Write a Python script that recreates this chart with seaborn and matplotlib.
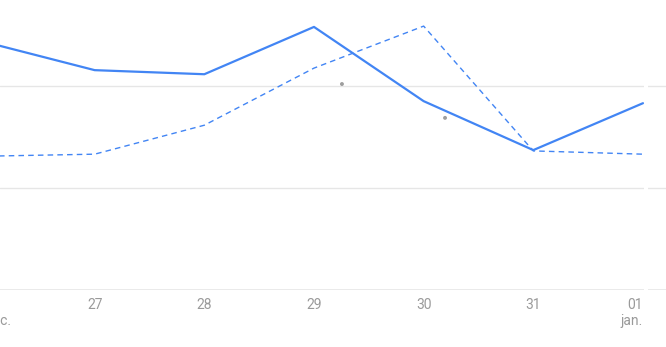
import matplotlib
matplotlib.use("Agg")
import matplotlib.pyplot as plt
import matplotlib.transforms as mtransforms
import seaborn as sns
import pandas as pd

# ---- data ----
days = ["26", "27", "28", "29", "30", "31", "01"]
months = ["déc.", "", "", "", "", "", "jan."]
solid_values = [60.8, 53.9, 52.9, 64.5, 46.3, 34.3, 45.8]
dashed_values = [32.8, 33.3, 40.4, 54.4, 64.7, 34.1, 33.3]
marker_x = [3.255, 4.195]
marker_y = [50.5, 42.2]
grid_values = [25, 50]

sns.set_style("white")
plt.rcParams["font.family"] = ["Roboto", "DejaVu Sans"]

idx = list(range(len(days)))
df = pd.DataFrame({
    "idx": idx * 2,
    "value": solid_values + dashed_values,
    "series": ["solid"] * len(days) + ["dashed"] * len(days),
})

fig = plt.figure(figsize=(6.66, 3.47), dpi=100)
ax = fig.add_axes([0, 57 / 347, 1, 290 / 347])

blue = "#4285f4"
grid_c = "#e6e6e6"

for v in grid_values:
    ax.axhline(v, color=grid_c, lw=1, zorder=0)
ax.axhline(0, color=grid_c, lw=1.2, zorder=0)

sns.lineplot(data=df[df.series == "dashed"], x="idx", y="value", ax=ax,
             color=blue, lw=1.0, linestyle=(0, (4, 3)), zorder=3)
sns.lineplot(data=df[df.series == "solid"], x="idx", y="value", ax=ax,
             color=blue, lw=1.6, zorder=4)
sns.scatterplot(x=marker_x, y=marker_y, ax=ax, color="#9e9e9e", s=8,
                edgecolor="none", zorder=5)

# gap / separator after last point
ax.axvspan(6.008, 6.045, color="white", zorder=1, lw=0)

ax.set_xlim(0.1368, 6.21)
ax.set_ylim(0, 71.1)
for s in ax.spines.values():
    s.set_visible(False)
ax.set_yticks([])
ax.set_xlabel("")
ax.set_ylabel("")

# ticks and labels
ax.set_xticks(idx[1:])
ax.set_xticklabels([])
ax.tick_params(axis="x", length=6, width=1.2, color=grid_c, direction="out")

trans = mtransforms.blended_transform_factory(ax.transData, ax.transAxes)
label_color = "#9a9a9a"
for i, (d, m) in enumerate(zip(days, months)):
    txt = d if not m else d + "\n" + m
    if i == 0:
        ha = "left"
        color = label_color
    elif i == len(days) - 1:
        ha = "right"
        color = label_color
    else:
        ha = "center"
        color = label_color
    x = i - 15 / 109.67 * 0 if i > 0 else 0 - 0.0
    ax.text(i if i > 0 else 0, -0.028, txt, transform=trans, ha=ha, va="top",
            fontsize=10, color=color, linespacing=1.15, multialignment=ha,
            clip_on=False)

fig.savefig("out.png", dpi=100)
